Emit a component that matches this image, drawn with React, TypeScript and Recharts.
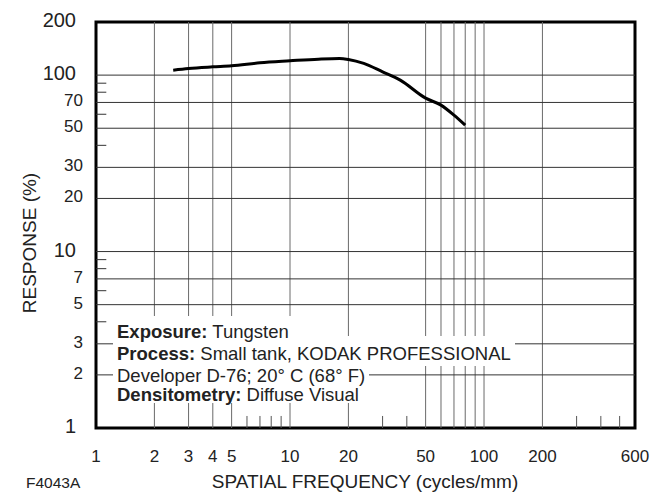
import { ComposedChart, Line, XAxis, YAxis, ReferenceLine, ReferenceArea } from 'recharts';

// spatial frequency (cycles/mm) and response (%)
const freqs = [2.5, 3, 4, 5, 7, 10, 14, 18, 20, 24, 30, 37, 50, 60, 70, 80];
const response = [106.7, 109, 111.4, 113, 117.4, 120.5, 123.2, 124.3, 122.7, 116.5, 104.4, 93.7, 74, 67.6, 59.3, 52];

const xTicks = [1, 2, 3, 4, 5, 10, 20, 50, 100, 200, 600];
const yTicks = [1, 2, 3, 5, 7, 10, 20, 30, 50, 70, 100, 200];
const yDecades = [1, 10, 100, 200];

const xGrid = [2, 3, 4, 5, 10, 20, 50, 60, 70, 80, 90, 100, 200];
const yGrid = [2, 3, 5, 7, 10, 20, 30, 50, 70, 100];
const xMinor = [6, 7, 8, 9, 30, 40, 300, 400, 500];
const yMinor = [4, 6, 8, 9, 40, 60, 80, 90];

const notes = [
    { bold: 'Exposure:', rest: ' Tungsten', top: 316, h: 22, shift: 4.5 },
    { bold: 'Process:', rest: ' Small tank, KODAK PROFESSIONAL', top: 336, h: 30, shift: 2.5 },
    { bold: '', rest: 'Developer D-76; 20° C (68° F)', top: 366, h: 20, shift: 0 },
    { bold: 'Densitometry:', rest: ' Diffuse Visual', top: 386, h: 17, shift: 0 },
];

const data = freqs.map((f, i) => ({ f, r: response[i] }));

const FONT = '"Liberation Sans", Arial, Helvetica, sans-serif';

const YTick = ({ y, payload }: any) => {
    const big = yDecades.includes(payload.value);
    return (
        <text x={big ? 76 : 83} y={y} dy={big ? 5 : 4} textAnchor="end" fontSize={big ? 20 : 17} fontFamily={FONT} fill="#222">
            {payload.value}
        </text>
    );
};

const XTick = ({ x, payload }: any) => (
    <text x={x} y={462} textAnchor="middle" fontSize={17} fontFamily={FONT} fill="#222">
        {payload.value}
    </text>
);

const App = () => {
    return (
        <div style={{ position: 'absolute', left: 0, top: 0, width: 662, height: 493, background: '#fff', fontFamily: FONT, color: '#222' }}>
            <ComposedChart width={662} height={493} data={data} margin={{ top: 22, right: 27, bottom: 35, left: 36 }}>
                <XAxis dataKey="f" type="number" scale="log" domain={[1, 600]} ticks={xTicks} allowDataOverflow
                    axisLine={false} tickLine={false} tick={<XTick />} height={30} interval={0} />
                <YAxis type="number" scale="log" domain={[1, 200]} ticks={yTicks} allowDataOverflow
                    axisLine={false} tickLine={false} tick={<YTick />} width={60} interval={0} />

                {xGrid.map((v) => <ReferenceLine key={'xg' + v} x={v} stroke="#6a6a6a" strokeWidth={1} />)}
                {yGrid.map((v) => <ReferenceLine key={'yg' + v} y={v} stroke="#333" strokeWidth={1} />)}
                {xMinor.map((v) => (
                    <ReferenceLine key={'xm' + v} segment={[{ x: v, y: 1 }, { x: v, y: 1.17 }]} stroke="#555" strokeWidth={1} />
                ))}
                {yMinor.map((v) => (
                    <ReferenceLine key={'ym' + v} segment={[{ x: 1, y: v }, { x: 1.13, y: v }]} stroke="#333" strokeWidth={1} />
                ))}

                <Line type="monotone" dataKey="r" stroke="#000" strokeWidth={3} dot={false} isAnimationActive={false} />

                <ReferenceArea x1={1} x2={600} y1={1} y2={200} fill="none" stroke="#000" strokeWidth={3} fillOpacity={0} />
            </ComposedChart>

            {/* notes box, each row masks the grid behind it; drawn bottom row first so upper rows stay on top */}
            {[...notes].reverse().map((n) => (
                <div key={n.rest} style={{ position: 'absolute', left: 113, top: n.top, height: n.h, lineHeight: n.h + 'px',
                    background: '#fff', padding: '0 4px 0 4px', fontSize: 18.5, whiteSpace: 'nowrap' }}>
                    <span style={{ position: 'relative', top: n.shift }}>
                        {n.bold && <b>{n.bold}</b>}{n.rest}
                    </span>
                </div>
            ))}

            <div style={{ position: 'absolute', left: 30, top: 243, transform: 'translate(-50%, -50%) rotate(-90deg)', fontSize: 19, whiteSpace: 'nowrap' }}>
                RESPONSE (%)
            </div>
            <div style={{ position: 'absolute', left: 365, top: 482, transform: 'translate(-50%, -50%)', fontSize: 19, whiteSpace: 'nowrap' }}>
                SPATIAL FREQUENCY (cycles/mm)
            </div>
            <div style={{ position: 'absolute', left: 26, top: 483, transform: 'translateY(-50%)', fontSize: 15.5, whiteSpace: 'nowrap' }}>
                F4043A
            </div>
        </div>
    );
};

export default App;
